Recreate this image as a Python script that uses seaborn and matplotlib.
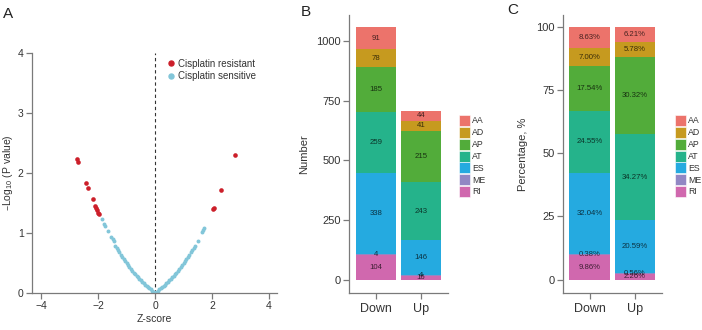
import numpy as np
import pandas as pd
import matplotlib
matplotlib.use("Agg")
import matplotlib.pyplot as plt
import seaborn as sns
from matplotlib.patches import Patch
from matplotlib.lines import Line2D

# ---------------- Panel A data ----------------
res_z = [-2.75, -2.69, -2.41, -2.35, -2.19, -2.11, -2.07, -2.03, -1.99, -1.96,
         2.05, 2.07, 2.33, 2.81]
res_y = [2.24, 2.19, 1.83, 1.75, 1.57, 1.45, 1.42, 1.38, 1.34, 1.32,
         1.40, 1.41, 1.72, 2.30]
sens_z = [-1.88, -1.78, -1.75, -1.66, -1.54, -1.49, -1.44,
          -1.40, -1.35, -1.30, -1.25, -1.20, -1.15, -1.10, -1.05, -1.00, -0.95,
          -0.90, -0.85, -0.80, -0.75, -0.70, -0.65, -0.60, -0.55, -0.50, -0.45,
          -0.40, -0.35, -0.30, -0.25, -0.20, -0.15, -0.10, -0.05, 0.00,
          0.05, 0.10, 0.15, 0.20, 0.25, 0.30, 0.35, 0.40, 0.45, 0.50, 0.55,
          0.60, 0.65, 0.70, 0.75, 0.80, 0.85, 0.90, 0.95, 1.00, 1.05, 1.10,
          1.15, 1.20, 1.25, 1.30, 1.35, 1.40, 1.49, 1.64, 1.68, 1.72]
sens_y = [1.24, 1.15, 1.12, 1.04, 0.94, 0.90, 0.86,
          0.79, 0.75, 0.71, 0.68, 0.64, 0.60, 0.57, 0.53, 0.50, 0.47,
          0.43, 0.40, 0.37, 0.34, 0.32, 0.29, 0.26, 0.23, 0.21, 0.19,
          0.16, 0.14, 0.12, 0.10, 0.08, 0.06, 0.04, 0.02, 0.00,
          0.02, 0.04, 0.06, 0.08, 0.10, 0.12, 0.14, 0.16, 0.19, 0.21, 0.23,
          0.26, 0.29, 0.32, 0.34, 0.37, 0.40, 0.43, 0.47, 0.50, 0.53, 0.57,
          0.60, 0.64, 0.68, 0.71, 0.75, 0.79, 0.87, 1.01, 1.05, 1.08]

# ---------------- Panels B / C data ----------------
groups = ["Down", "Up"]
types = ["AA", "AD", "AP", "AT", "ES", "ME", "RI"]
down_n = [91, 78, 185, 259, 338, 4, 104]
up_n = [44, 41, 215, 243, 146, 4, 16]
down_pct = [8.63, 7.00, 17.54, 24.55, 32.04, 0.38, 9.86]
up_pct = [6.21, 5.78, 30.32, 34.27, 20.59, 0.56, 2.26]
type_colors = ["#EC736B", "#C69A1F", "#52AC3A", "#25B38B", "#25AAE0", "#9187C4", "#D068AE"]

A_ticks_x = [-4, -2, 0, 2, 4]
A_ticks_y = [0, 1, 2, 3, 4]
B_ticks = [0, 250, 500, 750, 1000]
C_ticks = [0, 25, 50, 75, 100]

# ---------------- style ----------------
sns.set_style("ticks")
plt.rcParams["font.family"] = ["Liberation Sans", "DejaVu Sans"]
plt.rcParams["mathtext.default"] = "regular"
AX_COL = "#7a7a7a"
TXT_COL = "#333333"

fig = plt.figure(figsize=(7.02, 3.30), dpi=100)

def style_axes(ax):
    for s in ["top", "right"]:
        ax.spines[s].set_visible(False)
    for s in ["left", "bottom"]:
        ax.spines[s].set_color(AX_COL)
        ax.spines[s].set_linewidth(0.9)
    ax.tick_params(axis="both", colors=AX_COL, length=4, width=0.9,
                   labelcolor=TXT_COL, direction="out")

# ---------------- Panel A ----------------
axA = fig.add_axes([0.0456, 0.1121, 0.349, 0.7273])
dfA_s = pd.DataFrame({"z": sens_z, "y": sens_y})
dfA_r = pd.DataFrame({"z": res_z, "y": res_y})
axA.axvline(0, color="#333333", lw=0.8, ls=(0, (3, 2.5)), zorder=1)
sns.scatterplot(data=dfA_s, x="z", y="y", color="#82C6D9", s=8, linewidth=0,
                ax=axA, zorder=2)
sns.scatterplot(data=dfA_r, x="z", y="y", color="#CC1F2A", s=11, linewidth=0,
                ax=axA, zorder=3)
axA.set_xlim(-4.32, 4.28)
axA.set_ylim(0, 4)
axA.set_xticks(A_ticks_x)
axA.set_xticklabels(["\u22124" if v == -4 else ("\u22122" if v == -2 else str(v)) for v in A_ticks_x])
axA.set_yticks(A_ticks_y)
style_axes(axA)
axA.tick_params(labelsize=7.5, pad=2)
axA.set_xlabel("Z-score", fontsize=7.5, color=TXT_COL, labelpad=2)
axA.set_ylabel("\u2013Log$_{10}$ (P value)", fontsize=7.5, color=TXT_COL, labelpad=2)
hA = [Line2D([], [], marker="o", ls="", color="#CC1F2A", markersize=3.6, label="Cisplatin resistant"),
      Line2D([], [], marker="o", ls="", color="#82C6D9", markersize=3.6, label="Cisplatin sensitive")]
axA.legend(handles=hA, loc="upper left", bbox_to_anchor=(0.548, 0.976), frameon=False,
           fontsize=7, handletextpad=0.2, labelspacing=0.25, borderpad=0,
           borderaxespad=0, handlelength=1.0, labelcolor=TXT_COL)

# ---------------- helper for stacked panels ----------------
def stacked(ax, vals_down, vals_up, col, fmt, ticks, ylim, ylabel, labelpad):
    df = pd.DataFrame({
        "group": [g for g in groups for _ in types],
        "type": types * 2,
        "v": list(vals_down) + list(vals_up),
    })
    sns.histplot(data=df, x="group", weights="v", hue="type", hue_order=types,
                 palette=col, multiple="stack", discrete=True, shrink=0.9,
                 alpha=1, linewidth=0, legend=False, ax=ax)
    for gi, vals in enumerate([vals_down, vals_up]):
        base = 0.0
        for t, v in reversed(list(zip(types, vals))):
            ax.text(gi, base + v / 2, fmt(v), ha="center", va="center",
                    fontsize=5.6, color="black", alpha=0.7)
            base += v
    ax.set_xlim(-0.6, 1.6)
    ax.set_ylim(*ylim)
    ax.set_yticks(ticks)
    style_axes(ax)
    ax.tick_params(axis="y", labelsize=8, pad=2)
    ax.tick_params(axis="x", labelsize=9, pad=3)
    ax.set_xlabel("")
    ax.set_ylabel(ylabel, fontsize=8, color=TXT_COL, labelpad=labelpad)
    ax.spines["bottom"].set_bounds(-0.6, 1.6)

axB = fig.add_axes([0.4976, 0.1121, 0.1406, 0.8424])
stacked(axB, down_n, up_n, type_colors, lambda v: f"{v:d}", B_ticks,
        (-56, 1110), "Number", 5)

axC = fig.add_axes([0.8016, 0.1121, 0.1415, 0.8424])
stacked(axC, down_pct, up_pct, type_colors, lambda v: f"{v:.2f}%", C_ticks,
        (-5.25, 104.6), "Percentage, %", 6)

handles = [Patch(facecolor=c, edgecolor="white", linewidth=0.4, label=t)
           for t, c in zip(types, type_colors)]
for x0 in (0.6538, 0.9615):
    fig.legend(handles=handles, loc="center left", bbox_to_anchor=(x0, 0.527),
               frameon=False, fontsize=6.3, handlelength=1.25, handleheight=1.55,
               labelspacing=0.1, handletextpad=0.25, borderpad=0,
               borderaxespad=0, labelcolor=TXT_COL)

# panel letters
fig.text(0.004, 0.98, "A", fontsize=11, color="#222222", va="top")
fig.text(0.428, 0.985, "B", fontsize=11, color="#222222", va="top")
fig.text(0.722, 0.99, "C", fontsize=11, color="#222222", va="top")

fig.savefig("out.png", dpi=100)
